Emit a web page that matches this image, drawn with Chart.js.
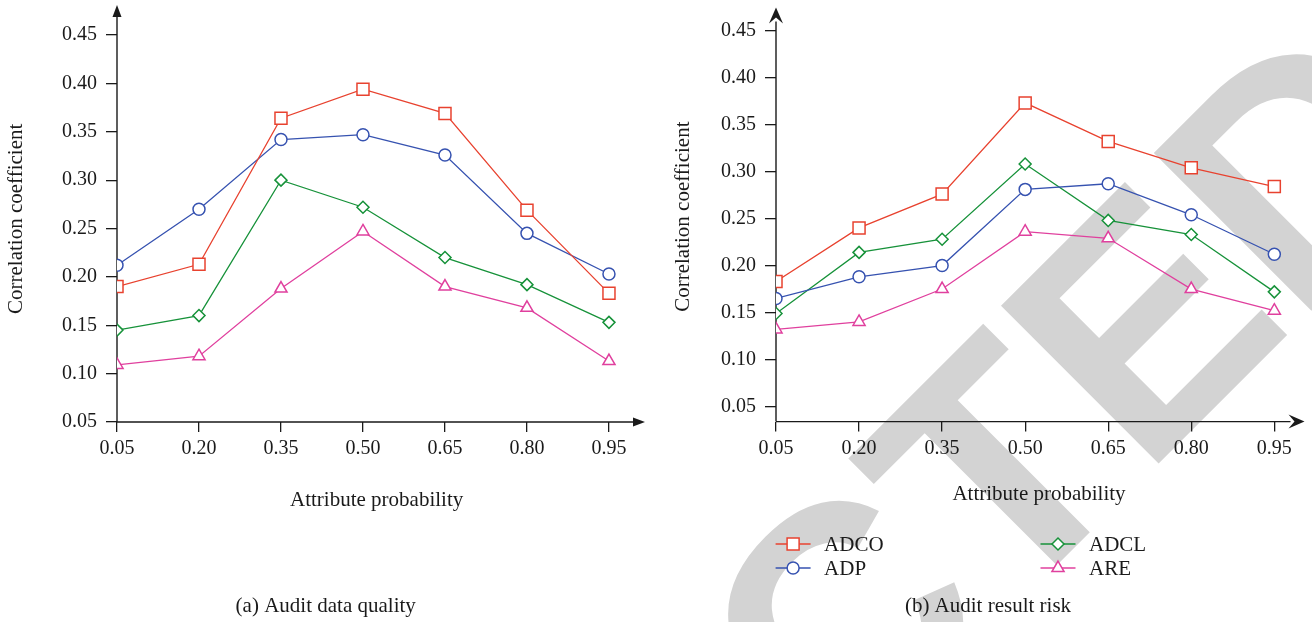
<!DOCTYPE html>
<html><head><meta charset="utf-8">
<script src="https://cdn.jsdelivr.net/npm/chart.js@4.4.1/dist/chart.umd.min.js"></script>
<style>
html,body{margin:0;padding:0;background:#fff;width:1312px;height:622px;overflow:hidden;}
#wrapA{position:absolute;left:0;top:0;width:660px;height:622px;}
#wrapB{position:absolute;left:660px;top:0;width:652px;height:622px;}
canvas{display:block;}
</style></head><body>
<div id="wrapA"><canvas id="chartA" width="660" height="622"></canvas></div>
<div id="wrapB"><canvas id="chartB" width="652" height="622"></canvas></div>
<script>
// ---- data ----
const categories = ['0.05','0.20','0.35','0.50','0.65','0.80','0.95'];
const xValues = [0.05, 0.20, 0.35, 0.50, 0.65, 0.80, 0.95];
const yTickValues = [0.05, 0.10, 0.15, 0.20, 0.25, 0.30, 0.35, 0.40, 0.45];
const seriesNames = ['ADCO', 'ADP', 'ADCL', 'ARE'];

// (a) Audit data quality
const adcoA = [0.190, 0.213, 0.364, 0.394, 0.369, 0.269, 0.183];
const adpA  = [0.212, 0.270, 0.342, 0.347, 0.326, 0.245, 0.203];
const adclA = [0.145, 0.160, 0.300, 0.272, 0.220, 0.192, 0.153];
const areA  = [0.109, 0.118, 0.188, 0.247, 0.190, 0.168, 0.113];

// (b) Audit result risk
const adcoB = [0.183, 0.240, 0.276, 0.373, 0.332, 0.304, 0.284];
const adpB  = [0.165, 0.188, 0.200, 0.281, 0.287, 0.254, 0.212];
const adclB = [0.149, 0.214, 0.228, 0.308, 0.248, 0.233, 0.172];
const areB  = [0.132, 0.140, 0.175, 0.236, 0.229, 0.175, 0.152];

const xTitle = 'Attribute probability';
const yTitle = 'Correlation coefficient';
const captionA = '(a) Audit data quality';
const captionB = '(b) Audit result risk';

// ---- styles ----
const COLORS = {ADCO:'#e8422f', ADP:'#3652b0', ADCL:'#17923a', ARE:'#e0409e'};
const STYLES = {ADCO:{s:'rect', r:8.5}, ADP:{s:'circle', r:6}, ADCL:{s:'rectRot', r:6}, ARE:{s:'triangle', r:7}};
const SERIF = '"Liberation Serif", "Times New Roman", serif';
const TXT = '#1a1a1a';
Chart.defaults.font.family = SERIF;
Chart.defaults.color = TXT;

function makeDataset(name, values){
  return {
    label: name,
    data: xValues.map((x, i) => ({x: x, y: values[i]})),
    borderColor: COLORS[name],
    borderWidth: 1.3,
    pointStyle: STYLES[name].s,
    pointRadius: STYLES[name].r,
    pointHoverRadius: STYLES[name].r,
    pointBorderWidth: 1.5,
    pointBackgroundColor: '#ffffff',
    pointBorderColor: COLORS[name],
    tension: 0,
    fill: false
  };
}

function axisPlugin(p){
  return {
    id: 'axisArrows',
    beforeDatasetsDraw(chart){
      const ctx = chart.ctx, a = chart.chartArea;
      const x0 = a.left, y0 = a.bottom;
      ctx.save();
      ctx.strokeStyle = TXT; ctx.fillStyle = TXT; ctx.lineWidth = 1.4;
      ctx.beginPath();
      ctx.moveTo(x0, y0); ctx.lineTo(p.xTip - p.len + 2, y0);
      ctx.moveTo(x0, y0); ctx.lineTo(x0, p.yTip + p.len - 2);
      ctx.stroke();
      ctx.beginPath();
      ctx.moveTo(p.xTip, y0);
      ctx.lineTo(p.xTip - p.len, y0 - p.hw);
      ctx.lineTo(p.xTip - p.len + p.notch, y0);
      ctx.lineTo(p.xTip - p.len, y0 + p.hw);
      ctx.closePath(); ctx.fill();
      ctx.beginPath();
      ctx.moveTo(x0, p.yTip);
      ctx.lineTo(x0 - p.hw, p.yTip + p.len);
      ctx.lineTo(x0, p.yTip + p.len - p.notch);
      ctx.lineTo(x0 + p.hw, p.yTip + p.len);
      ctx.closePath(); ctx.fill();
      ctx.restore();
    }
  };
}

function captionPlugin(text, cx, baseline){
  return {
    id: 'caption',
    afterDraw(chart){
      const ctx = chart.ctx;
      ctx.save();
      ctx.font = '21px ' + SERIF;
      ctx.fillStyle = TXT;
      ctx.textAlign = 'center';
      ctx.textBaseline = 'alphabetic';
      ctx.fillText(text, cx, baseline);
      ctx.restore();
    }
  };
}

const watermarkPlugin = {
  id: 'watermark',
  beforeDraw(chart){
    const ctx = chart.ctx;
    ctx.save();
    ctx.translate(-660, 0);
    ctx.rotate(-Math.PI / 4);
    ctx.font = 'bold 324px "Liberation Sans", Arial, sans-serif';
    ctx.fillStyle = '#d3d3d3';
    ctx.textAlign = 'left';
    ctx.textBaseline = 'alphabetic';
    ctx.fillText('RETRACTED', -1078, 1147);
    ctx.restore();
  }
};

const legendPlugin = {
  id: 'customLegend',
  afterDraw(chart){
    const ctx = chart.ctx;
    const cols = [115.6, 380.5];
    const rows = [544, 568];
    const layout = [['ADCO',0,0], ['ADCL',1,0], ['ADP',0,1], ['ARE',1,1]];
    ctx.save();
    layout.forEach(([name, c, r]) => {
      const x = cols[c], y = rows[r];
      const col = COLORS[name];
      ctx.strokeStyle = col; ctx.lineWidth = 1.3;
      ctx.beginPath(); ctx.moveTo(x, y); ctx.lineTo(x + 35, y); ctx.stroke();
      ctx.fillStyle = '#ffffff'; ctx.strokeStyle = col; ctx.lineWidth = 1.5;
      Chart.helpers.drawPoint(ctx, {pointStyle: STYLES[name].s, radius: STYLES[name].r, borderWidth: 1.5, rotation: 0}, x + 17.5, y);
      ctx.fillStyle = TXT;
      ctx.font = '21px ' + SERIF;
      ctx.textAlign = 'left'; ctx.textBaseline = 'alphabetic';
      ctx.fillText(name, x + 48.5, y + 6.5);
    });
    ctx.restore();
  }
};

function makeChart(id, sets, o){
  const datasets = [
    makeDataset('ADCO', sets[0]),
    makeDataset('ADP', sets[1]),
    makeDataset('ADCL', sets[2]),
    makeDataset('ARE', sets[3])
  ];
  const plugins = [axisPlugin(o.arrow), captionPlugin(o.caption, o.capX, 612)];
  if (o.extra) o.extra.forEach(p => plugins.push(p));
  return new Chart(document.getElementById(id), {
    type: 'line',
    data: {datasets},
    plugins,
    options: {
      responsive: false,
      animation: false,
      events: [],
      layout: {padding: {left: 0, top: o.top, right: o.right, bottom: 29.6}},
      plugins: {legend: {display: false}, tooltip: {enabled: false}, title: {display: false}},
      scales: {
        x: {
          type: 'linear', min: 0.05, max: 1.0,
          afterBuildTicks: s => { s.ticks = xValues.map(v => ({value: v})); },
          afterFit: s => { s.height = o.xH; s.paddingLeft = 0; s.paddingRight = 0; s.paddingTop = 0; s.paddingBottom = 0; },
          ticks: {callback: (v, i) => categories[i], font: {size: 20}, color: TXT, padding: 5, maxRotation: 0, autoSkip: false},
          grid: {display: true, drawOnChartArea: false, drawTicks: true, tickLength: 10, color: TXT, lineWidth: 1.3},
          border: {display: false},
          title: {display: true, text: xTitle, font: {size: 21}, color: TXT, padding: {top: 0, bottom: o.xTitlePad}}
        },
        y: {
          type: 'linear', min: o.yMin, max: 0.47,
          afterBuildTicks: s => { s.ticks = yTickValues.map(v => ({value: v})); },
          afterFit: s => { s.width = o.yW; s.paddingLeft = 0; s.paddingRight = 0; s.paddingTop = 0; s.paddingBottom = 0; },
          ticks: {callback: v => v.toFixed(2), font: {size: 20}, color: TXT, padding: 9},
          grid: {display: true, drawOnChartArea: false, drawTicks: true, tickLength: 11, color: TXT, lineWidth: 1.3},
          border: {display: false},
          title: {display: true, text: yTitle, font: {size: 21}, color: TXT, padding: {top: o.yTitlePad, bottom: 0}}
        }
      }
    }
  });
}

makeChart('chartA', [adcoA, adpA, adclA, areA], {
  top: 15.7, right: 23.7, xH: 170.4, yW: 117, yMin: 0.05,
  xTitlePad: 78.9, yTitlePad: 3.4, caption: captionA, capX: 325.7,
  arrow: {xTip: 645, yTip: 5, len: 12, hw: 4.5, notch: 0}
});

makeChart('chartB', [adcoB, adpB, adclB, areB], {
  top: 11.7, right: 9.7, xH: 170.8, yW: 116, yMin: 0.034,
  xTitlePad: 85.8, yTitlePad: 10.4, caption: captionB, capX: 328,
  arrow: {xTip: 644.5, yTip: 7.5, len: 16, hw: 7, notch: 6},
  extra: [watermarkPlugin, legendPlugin]
});
</script>
</body></html>
